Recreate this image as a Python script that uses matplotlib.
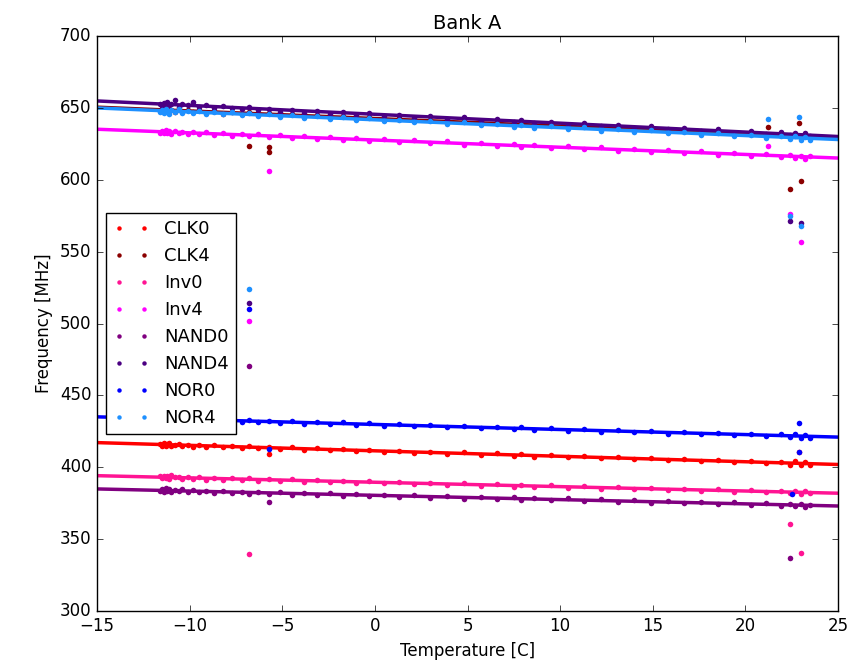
import numpy as np
import matplotlib
matplotlib.use("Agg")
import matplotlib.pyplot as plt

plt.style.use('classic')
plt.rcParams['font.family'] = ['DejaVu Sans']
plt.rcParams['figure.facecolor'] = 'white'
plt.rcParams['savefig.facecolor'] = 'white'

# temperature readings shared by every oscillator in the bank
temps = [-11.6, -11.5, -11.4, -11.3, -11.2, -11.1, -11.0, -10.8, -10.6, -10.4,
         -10.1, -9.8, -9.5, -9.1, -8.7, -8.2, -7.7, -7.2, -6.8, -6.3,
         -5.7, -5.1, -4.5, -3.8, -3.1, -2.4, -1.7, -1.0, -0.3, 0.5,
         1.3, 2.1, 3.0, 3.9, 4.8, 5.7, 6.6, 7.5, 7.9, 8.6,
         9.5, 10.4, 11.3, 12.2, 13.1, 14.0, 14.9, 15.8, 16.7, 17.6,
         18.5, 19.4, 20.3, 21.1, 21.9, 22.4, 22.7, 23.0, 23.2, 23.5]

clk0 = [416.2, 415.1, 417.0, 414.8, 415.9, 416.8, 414.6, 415.3, 416.5, 414.9,
        415.8, 414.3, 415.6, 414.2, 415.4, 413.9, 415.0, 413.6, 414.7, 413.2,
        414.2, 412.6, 413.9, 412.1, 413.3, 411.7, 412.8, 411.2, 412.3, 410.6,
        411.5, 410.0, 410.9, 409.3, 410.4, 408.7, 409.6, 408.0, 409.3, 407.5,
        408.4, 406.9, 407.8, 406.2, 407.1, 405.6, 406.4, 404.9, 405.7, 404.2,
        405.0, 403.5, 404.4, 402.8, 403.8, 401.9, 404.2, 401.5, 403.6, 401.8]
clk4 = [647.9, 649.5, 648.1, 649.8, 647.6, 649.0, 648.9, 647.5, 649.1, 647.4,
        648.6, 646.9, 648.3, 646.5, 647.9, 646.1, 647.4, 645.6, 647.0, 645.2,
        646.4, 644.6, 645.9, 643.8, 645.0, 643.1, 644.3, 642.4, 643.6, 641.5,
        642.7, 640.8, 641.8, 640.1, 640.9, 638.8, 639.9, 637.9, 639.3, 637.4,
        638.4, 636.5, 637.6, 635.4, 636.5, 634.5, 635.6, 633.5, 634.6, 632.8,
        633.7, 631.6, 632.8, 630.7, 631.9, 630.0, 631.5, 629.6, 631.2, 629.5]
inv0 = [393.6, 392.3, 394.1, 392.7, 393.8, 392.1, 394.4, 392.9, 393.5, 391.9,
        393.1, 391.8, 393.0, 391.5, 392.8, 391.3, 392.4, 391.0, 392.2, 390.8,
        391.9, 390.4, 391.6, 389.9, 391.1, 389.6, 390.7, 389.1, 390.3, 388.8,
        389.8, 388.3, 389.3, 387.7, 388.8, 387.1, 388.3, 386.6, 387.9, 386.2,
        387.4, 385.8, 386.9, 385.1, 386.3, 384.7, 385.7, 384.1, 385.2, 383.6,
        384.7, 383.0, 384.2, 382.5, 383.7, 382.0, 383.6, 381.7, 383.4, 381.8]
inv4 = [632.6, 634.2, 632.9, 634.5, 632.3, 633.8, 631.9, 634.0, 632.4, 633.5,
        631.8, 633.3, 631.6, 633.0, 631.2, 632.5, 630.7, 632.0, 630.3, 631.6,
        629.7, 631.2, 629.3, 630.5, 628.6, 629.9, 627.8, 629.1, 626.9, 628.2,
        626.1, 627.6, 625.3, 626.8, 624.4, 625.7, 623.5, 624.9, 622.8, 624.1,
        622.0, 623.4, 621.2, 622.5, 620.3, 621.6, 619.4, 620.7, 618.5, 619.8,
        617.5, 618.9, 616.6, 618.0, 615.8, 617.4, 615.3, 616.9, 614.6, 616.3]
nand0 = [383.4, 384.9, 383.1, 385.3, 383.7, 384.6, 382.9, 384.1, 383.3, 385.0,
         382.8, 384.1, 382.5, 383.8, 382.2, 383.4, 381.9, 383.1, 381.6, 382.9,
         381.4, 382.6, 380.9, 382.3, 380.6, 381.8, 380.1, 381.4, 379.7, 381.0,
         379.3, 380.6, 378.8, 380.0, 378.2, 379.5, 377.7, 379.0, 377.3, 378.6,
         377.0, 378.3, 376.5, 377.7, 375.9, 377.0, 375.4, 376.5, 374.9, 376.0,
         374.4, 375.6, 373.8, 375.1, 373.3, 374.6, 372.9, 374.4, 372.5, 374.1]
nand4 = [652.8, 651.3, 653.6, 650.9, 654.2, 651.7, 652.5, 655.4, 651.0, 652.9,
         651.8, 653.9, 650.6, 652.2, 649.7, 651.5, 650.3, 649.0, 650.9, 648.3,
         649.6, 647.5, 648.9, 646.8, 648.0, 645.9, 647.4, 644.9, 646.3, 644.1,
         645.4, 643.2, 644.5, 642.1, 643.6, 641.0, 642.3, 640.1, 641.5, 639.3,
         640.5, 638.3, 639.6, 637.1, 638.4, 636.0, 637.3, 635.1, 636.3, 634.0,
         635.2, 632.8, 634.3, 631.7, 633.0, 630.9, 632.7, 630.5, 632.3, 630.2]
nor0 = [434.5, 433.0, 434.9, 432.6, 434.2, 433.1, 435.0, 432.8, 434.1, 432.7,
        433.9, 432.5, 434.0, 432.2, 433.6, 431.9, 433.2, 431.6, 432.9, 431.2,
        432.5, 430.8, 432.1, 430.3, 431.7, 429.8, 431.2, 429.4, 430.7, 428.9,
        430.1, 428.4, 429.6, 427.7, 429.0, 427.2, 428.3, 426.4, 427.8, 426.0,
        427.2, 425.5, 426.7, 424.8, 426.0, 424.2, 425.3, 423.5, 424.7, 422.9,
        424.1, 422.3, 423.4, 421.6, 422.9, 421.0, 423.0, 420.4, 422.5, 420.7]
nor4 = [647.2, 648.9, 646.8, 649.3, 647.5, 645.9, 648.6, 647.0, 649.1, 646.6,
        648.0, 646.4, 647.8, 646.0, 647.3, 645.5, 646.9, 644.9, 646.3, 644.6,
        645.7, 643.9, 645.1, 643.0, 644.4, 642.5, 643.6, 641.5, 642.8, 640.8,
        641.9, 640.0, 641.0, 638.8, 640.0, 637.9, 639.0, 636.8, 638.3, 636.2,
        637.4, 635.3, 636.4, 634.3, 635.4, 633.2, 634.5, 632.3, 633.5, 631.3,
        632.5, 630.3, 631.4, 629.4, 630.6, 628.6, 630.5, 627.8, 630.1, 627.5]

# glitch readings (temperature, frequency), left out of the fits
out_clk0_t, out_clk0_f = [-5.7, 22.9], [409.0, 410.6]
out_clk4_t, out_clk4_f = [-6.8, -5.7, -5.7, 21.2, 22.4, 22.9, 23.0], [623.5, 622.8, 619.3, 636.7, 593.4, 639.5, 599.3]
out_inv0_t, out_inv0_f = [-6.8, 22.4, 23.0], [339.7, 360.5, 340.3]
out_inv4_t, out_inv4_f = [-6.8, -5.7, 21.2, 22.4, 23.0], [501.7, 606.0, 623.5, 576.0, 556.9]
out_nand0_t, out_nand0_f = [-6.8, -5.7, 22.4], [470.4, 375.8, 336.9]
out_nand4_t, out_nand4_f = [-6.8, 22.4, 23.0], [514.3, 571.0, 569.7]
out_nor0_t, out_nor0_f = [-6.8, -5.7, 22.5, 22.9, 22.9], [510.0, 412.7, 381.4, 410.6, 430.8]
out_nor4_t, out_nor4_f = [-6.8, 21.2, 22.4, 22.9, 23.0], [524.0, 642.3, 574.8, 643.7, 567.8]

names = ['CLK0', 'CLK4', 'Inv0', 'Inv4', 'NAND0', 'NAND4', 'NOR0', 'NOR4']
colors = ['#ff0000', '#8b0000', '#ff1493', '#ff00ff', '#800080', '#4b0082', '#0000ff', '#1e90ff']
series = [clk0, clk4, inv0, inv4, nand0, nand4, nor0, nor4]
outliers = [(out_clk0_t, out_clk0_f), (out_clk4_t, out_clk4_f), (out_inv0_t, out_inv0_f),
            (out_inv4_t, out_inv4_f), (out_nand0_t, out_nand0_f), (out_nand4_t, out_nand4_f),
            (out_nor0_t, out_nor0_f), (out_nor4_t, out_nor4_f)]

fig = plt.figure(figsize=(8.47, 6.68), dpi=100)
ax = fig.add_axes([0.1145, 0.0853, 0.875, 0.8607])

xfit = np.array([-15, 25])
for name, col, freq, (ot, of) in zip(names, colors, series, outliers):
    ax.plot(temps + ot, freq + of, 'o', color=col, markersize=4, markeredgewidth=0, label=name)
    #linear fit of the clean readings
    slope, icpt = np.polyfit(temps, freq, 1)
    ax.plot(xfit, slope * xfit + icpt, '-', color=col, linewidth=2.5)

ax.set_xlim(-15, 25)
ax.set_ylim(300, 700)
ax.set_title('Bank A', fontsize=14)
ax.set_xlabel('Temperature [C]', fontsize=12)
ax.set_ylabel('Frequency [MHz]', fontsize=12)
ax.tick_params(labelsize=12)
leg = ax.legend(loc='center left', numpoints=2, fontsize=13, markerscale=0.8)

fig.savefig('out.png', dpi=100)
